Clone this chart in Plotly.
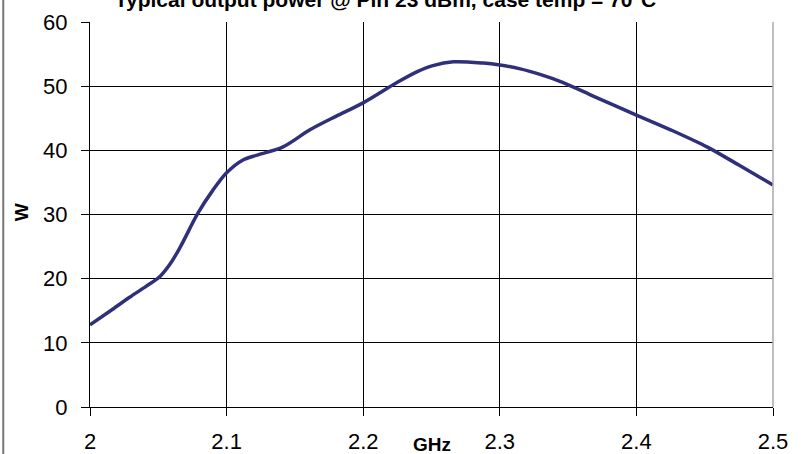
import plotly.graph_objects as go

freq_ghz = [2.000, 2.015, 2.029, 2.041, 2.051, 2.059, 2.066, 2.079, 2.090, 2.100,
            2.112, 2.123, 2.141, 2.161, 2.180, 2.200, 2.225, 2.240, 2.251, 2.266,
            2.288, 2.300, 2.315, 2.330, 2.346, 2.370, 2.400, 2.425, 2.452, 2.475,
            2.500]
power_w = [12.8, 15.0, 17.1, 18.8, 20.3, 22.4, 24.9, 30.2, 33.8, 36.5,
           38.5, 39.3, 40.5, 43.2, 45.3, 47.4, 50.6, 52.3, 53.2, 53.8,
           53.6, 53.3, 52.7, 51.8, 50.6, 48.3, 45.5, 43.2, 40.5, 37.7,
           34.6]

x_ticks = [2.0, 2.1, 2.2, 2.3, 2.4, 2.5]
x_tick_labels = ["2", "2.1", "2.2", "2.3", "2.4", "2.5"]
y_ticks = [0, 10, 20, 30, 40, 50, 60]

title_text = "Typical output power @ Pin 23 dBm, case temp = 70°C"

font_family = "Liberation Sans, Arial, sans-serif"

fig = go.Figure()
fig.add_trace(go.Scatter(
    x=freq_ghz, y=power_w, mode="lines",
    line=dict(color="#2f2f7a", width=3.5, shape="spline", smoothing=0.9),
    showlegend=False, hoverinfo="x+y",
))

fig.update_layout(
    width=803, height=454,
    margin=dict(l=90, r=30, t=22, b=47),
    paper_bgcolor="white", plot_bgcolor="white",
    font=dict(family=font_family, color="black", size=20),
    title=dict(text="<b>" + title_text + "</b>", x=0.48, xanchor="center",
               y=1.0, yref="container", yanchor="middle",
               font=dict(size=21, family=font_family, color="black")),
    xaxis=dict(range=[2.0, 2.5], tickvals=x_ticks, ticktext=x_tick_labels,
               showgrid=True, gridcolor="black", gridwidth=1,
               showline=True, linecolor="black", linewidth=1,
               ticks="outside", ticklen=8, tickcolor="black",
               ticklabelstandoff=7, automargin=False,
               tickfont=dict(size=22), zeroline=False, fixedrange=True),
    yaxis=dict(range=[0, 60], tickvals=y_ticks,
               showgrid=True, gridcolor="black", gridwidth=1,
               showline=True, linecolor="black", linewidth=1,
               ticks="outside", ticklen=8, tickcolor="black",
               ticklabelstandoff=9, automargin=False,
               tickfont=dict(size=22), zeroline=False, fixedrange=True),
    annotations=[
        dict(text="<b>GHz</b>", xref="paper", yref="paper", x=0.5, y=-0.097,
             xanchor="center", yanchor="middle", showarrow=False,
             font=dict(size=19, family=font_family, color="black")),
        dict(text="<b>W</b>", xref="paper", yref="paper", x=-0.1, y=0.505,
             xanchor="center", yanchor="middle", textangle=-90, showarrow=False,
             font=dict(size=19, family=font_family, color="black")),
    ],
    shapes=[
        dict(type="line", xref="paper", yref="paper", x0=-0.127, x1=-0.127,
             y0=-0.2, y1=1.1, line=dict(color="#777777", width=2)),
        dict(type="line", xref="paper", yref="paper", x0=1, x1=1,
             y0=0, y1=1, line=dict(color="#aaaaaa", width=1.5)),
    ],
)

fig.write_html(
    "out.html",
    config={"displayModeBar": False},
    post_script="document.body.style.margin='0';document.body.style.overflow='hidden';",
)
